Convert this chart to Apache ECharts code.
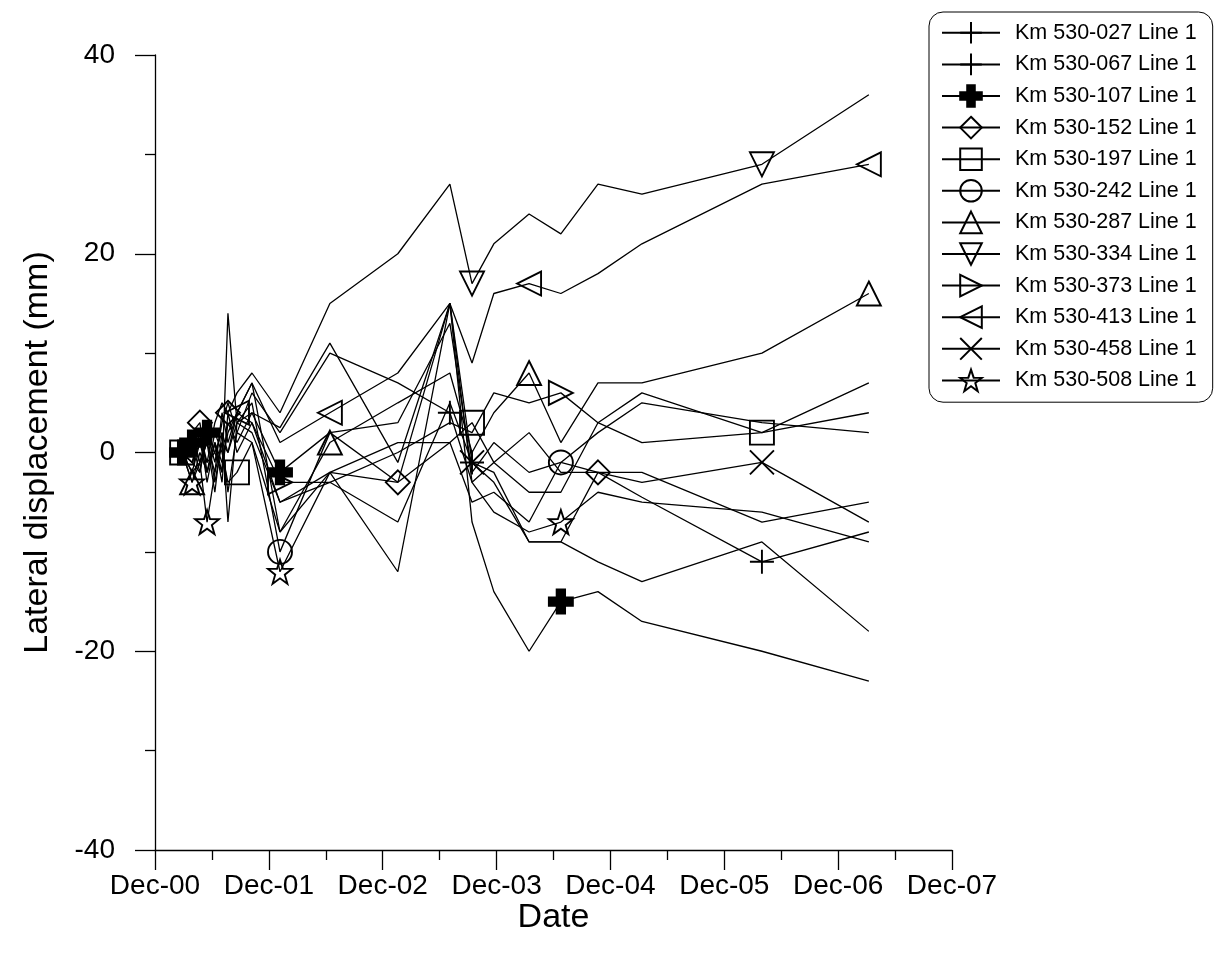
<!DOCTYPE html>
<html>
<head>
<meta charset="utf-8">
<script src="https://cdn.jsdelivr.net/npm/echarts@6/dist/echarts.min.js"></script>
<style>
html,body{margin:0;padding:0;background:#fff;}
#chart{width:1216px;height:963px;}
</style>
</head>
<body>
<div id="chart"></div>
<script>
// Survey dates
const dates = ['2001-02-26','2001-03-30','2001-04-24','2001-05-17','2001-06-11','2001-07-04','2001-07-23','2001-08-21','2001-10-08',
  '2002-01-06','2002-06-15','2003-01-19','2003-07-05','2003-09-14','2003-11-23','2004-03-15','2004-06-25','2004-10-22',
  '2005-03-12','2006-04-01','2007-03-10'];
const xTickLabels = ['Dec-00','Dec-01','Dec-02','Dec-03','Dec-04','Dec-05','Dec-06','Dec-07'];
const yTicks = [-40, -20, 0, 20, 40];

// Lateral displacement (mm) per station
const s027 = [0, 1, -2, 2, -1, 3, 5, 2, 6, 2, 10, 7, 4, -3, -1, 2, -2, -2, -4.5, -11, -8];
const s067 = [0, -1, 2, -3, 1, -2, 14, 3, 4, 2.5, 11, -1, 15, -1, -2, -9, -9, -11, -13, -9, -18];
const s107 = [0, 1, -1, 2, 0, -2, 3, 1, 4, -2, 2, -3, 15, -7, -14, -20, -15, -14, -17, -20, -23];
const s152 = [0, 2, 3, -2, 1, -3, 4, 0, 3, -5, -2, -3, 1, -5, -4, -7, -1, -2, -2, -7, -5];
const s197 = [0, -1, 1, -2, 2, 0, -3, -2, 1, -8, -2, 1, 1, 3, -1, -4, -4, 3, 6, 2, 7];
const s242 = [0, -2, -1, 1, -4, 2, 0, 3, 5, -10, 2, 3, 13, -2, 1, -2, -1, 2, 5, 3, 2];
const s287 = [0, -3, 0, -2, 1, -1, 2, 4, 7, -8, 1, 5, 8, 0, 4, 8, 1, 7, 7, 10, 16];
const s334 = [0, 1, 2, -1, 3, 5, 4, 6, 8, 4, 15, 20, 27, 17, 21, 24, 22, 27, 26, 29, 36];
const s373 = [0, -1, -2, 2, -3, 1, 0, 4, 3, -3, -3, 0, 3, 2, 6, 5, 6, 3, 1, 2, 4];
const s413 = [0, 2, -1, 1, -2, 4, 1, 4, 7, 1, 4, 8, 15, 9, 16, 17, 16, 18, 21, 27, 29];
const s458 = [0, -2, 1, -1, 0, 2, -7, 3, 2, -5, -3, -7, 5, -1, -3, -9, -9, -2, -3, -1, -7];
const s508 = [0, -3, -1, -7, -2, 1, -4, 2, 1, -12, -2, -12, 15, -3, -6, -8, -7, -4, -5, -6, -9];

// indices of the survey points that carry a symbol
const m027 = [12, 19];
const m067 = [13];
const m107 = [0, 1, 3, 9, 16];
const m152 = [2, 6, 11, 17];
const m197 = [0, 7, 13, 19];
const m242 = [9, 16];
const m287 = [1, 10, 15, 20];
const m334 = [13, 19];
const m373 = [9, 16];
const m413 = [7, 10, 15, 20];
const m458 = [13, 19];
const m508 = [1, 3, 9, 16];

const names = ['Km 530-027 Line 1','Km 530-067 Line 1','Km 530-107 Line 1','Km 530-152 Line 1','Km 530-197 Line 1','Km 530-242 Line 1',
  'Km 530-287 Line 1','Km 530-334 Line 1','Km 530-373 Line 1','Km 530-413 Line 1','Km 530-458 Line 1','Km 530-508 Line 1'];
const values = [s027, s067, s107, s152, s197, s242, s287, s334, s373, s413, s458, s508];
const marks = [m027, m067, m107, m152, m197, m242, m287, m334, m373, m413, m458, m508];

const PLUS = 'path://M0,10L20,10M10,0L10,20';
const BOLDPLUS = 'path://M6.5,0H13.5V6.5H20V13.5H13.5V20H6.5V13.5H0V6.5H6.5Z';
const XMARK = 'path://M0,0L20,20M20,0L0,20';
const STAR = 'path://M10,0L12.35,6.76L19.51,6.91L13.8,11.24L15.88,18.09L10,14L4.12,18.09L6.2,11.24L0.49,6.91L7.65,6.76Z';
const symbols = [
  {symbol: PLUS, rotate: 0, fill: 'transparent'},
  {symbol: PLUS, rotate: 0, fill: 'transparent'},
  {symbol: BOLDPLUS, rotate: 0, fill: '#000'},
  {symbol: 'diamond', rotate: 0, fill: 'transparent'},
  {symbol: 'rect', rotate: 0, fill: 'transparent'},
  {symbol: 'circle', rotate: 0, fill: 'transparent'},
  {symbol: 'triangle', rotate: 0, fill: 'transparent'},
  {symbol: 'triangle', rotate: 180, fill: 'transparent'},
  {symbol: 'triangle', rotate: -90, fill: 'transparent'},
  {symbol: 'triangle', rotate: 90, fill: 'transparent'},
  {symbol: XMARK, rotate: 0, fill: 'transparent'},
  {symbol: STAR, rotate: 0, fill: 'transparent'}
];

const t0 = Date.parse('2000-12-01T00:00:00Z');
const yearOf = d => (Date.parse(d + 'T00:00:00Z') - t0) / (365.25 * 86400000);
const xs = dates.map(yearOf);

const FONT = 'Arial, "Liberation Sans", Helvetica, sans-serif';

const series = names.map((name, i) => ({
  name: name,
  type: 'line',
  symbol: symbols[i].symbol,
  symbolRotate: symbols[i].rotate,
  symbolSize: 24,
  showSymbol: true,
  showAllSymbol: true,
  animation: false,
  lineStyle: {color: '#000', width: 1.3},
  itemStyle: {color: symbols[i].fill, borderColor: '#000', borderWidth: 1.9},
  emphasis: {disabled: true},
  data: values[i].map((v, k) => {
    const item = {value: [xs[k], v]};
    if (marks[i].indexOf(k) < 0) item.symbol = 'none';
    return item;
  })
}));

const chart = echarts.init(document.getElementById('chart'), null, {renderer: 'canvas'});
chart.setOption({
  backgroundColor: '#fff',
  animation: false,
  textStyle: {fontFamily: FONT},
  grid: {left: 155, top: 55, right: 264, bottom: 113},
  legend: {
    orient: 'vertical',
    left: 929,
    top: 12,
    itemWidth: 58,
    itemHeight: 27,
    itemGap: 8,
    padding: [9, 16, 10, 12],
    borderColor: '#000',
    borderWidth: 1,
    borderRadius: 14,
    textStyle: {fontFamily: FONT, fontSize: 21.5, color: '#000', padding: [0, 0, 0, 10]},
    data: names
  },
  xAxis: {
    type: 'value',
    min: 0, max: 7, interval: 1,
    name: 'Date',
    nameLocation: 'middle',
    nameGap: 51,
    nameMoveOverlap: false,
    nameTextStyle: {fontFamily: FONT, fontSize: 34, color: '#000'},
    axisLine: {onZero: false, lineStyle: {color: '#000', width: 1.3}},
    axisTick: {length: 20, lineStyle: {color: '#000', width: 1.3}},
    minorTick: {show: true, splitNumber: 2, length: 10, lineStyle: {color: '#000', width: 1.3}},
    splitLine: {show: false},
    axisLabel: {fontFamily: FONT, fontSize: 28, color: '#000', margin: 22,
      formatter: v => xTickLabels[Math.round(v)] || ''}
  },
  yAxis: {
    type: 'value',
    min: -40, max: 40, interval: 20,
    name: 'Lateral displacement (mm)',
    nameLocation: 'middle',
    nameGap: 100,
    nameTextStyle: {fontFamily: FONT, fontSize: 34, color: '#000'},
    axisLine: {show: true, onZero: false, lineStyle: {color: '#000', width: 1.3}},
    axisTick: {show: true, length: 20, lineStyle: {color: '#000', width: 1.3}},
    minorTick: {show: true, splitNumber: 2, length: 10, lineStyle: {color: '#000', width: 1.3}},
    splitLine: {show: false},
    axisLabel: {fontFamily: FONT, fontSize: 28, color: '#000', margin: 40,
      formatter: v => (yTicks.indexOf(v) >= 0 ? String(v) : '')}
  },
  series: series
});
</script>
</body>
</html>
